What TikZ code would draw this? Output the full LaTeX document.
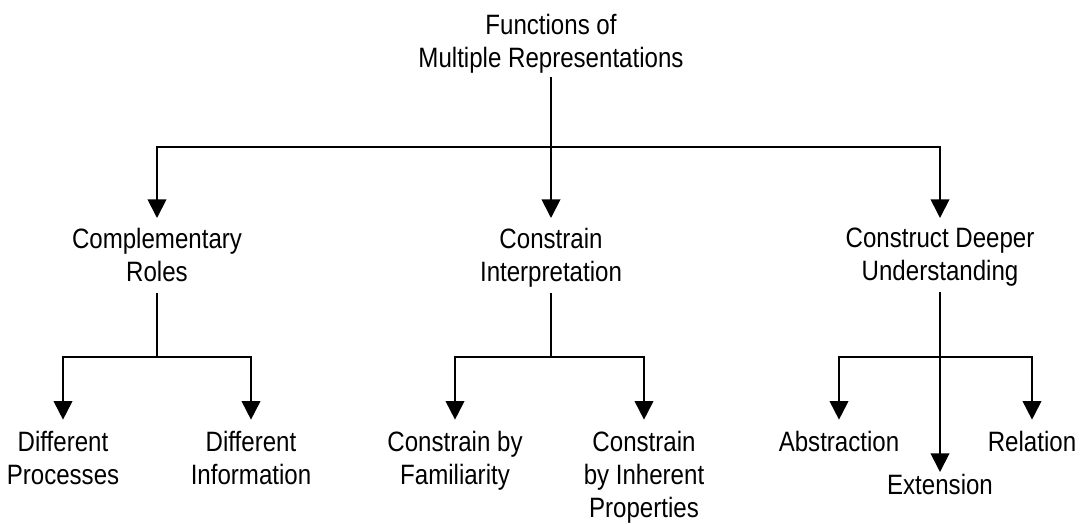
\documentclass[tikz,border=0pt]{standalone}
\usepackage{fontspec}
\setmainfont{Liberation Sans}[FakeStretch=0.86]
\usetikzlibrary{arrows.meta}
\begin{document}
\begin{tikzpicture}[x=0.75pt,y=-0.75pt,
  lbl/.style={align=center, anchor=north, inner sep=0pt, font=\fontsize{21}{24.75}\selectfont},
  conn/.style={line width=1.4pt},
  arr/.style={conn, -{Triangle[length=14pt,width=14pt]}},
]
\useasboundingbox (0,0) rectangle (1084,524);
% nodes
\node[lbl] (root) at (551,14) {Functions of\\Multiple Representations};
\node[lbl] (c1) at (157,228) {Complementary\\Roles};
\node[lbl] (c2) at (551,228) {Constrain\\Interpretation};
\node[lbl] (c3) at (940,228) {Construct Deeper\\Understanding};
\node[lbl] (g11) at (63,431) {Different\\Processes};
\node[lbl] (g12) at (251,431) {Different\\Information};
\node[lbl] (g21) at (455,431) {Constrain by\\Familiarity};
\node[lbl] (g22) at (644,431) {Constrain\\by Inherent\\Properties};
\node[lbl] (g31) at (839,431) {Abstraction};
\node[lbl] (g32) at (940,474) {Extension};
\node[lbl] (g33) at (1032,431) {Relation};
% junctions
\coordinate (j0) at (551,147);
\coordinate (j1) at (157,357);
\coordinate (j2) at (551,357);
\coordinate (j3) at (940,357);
% top level
\draw[conn, shorten <=2.5pt] (root.south) -- (j0);
\draw[arr, shorten >=7.5pt] (j0) -| (c1.north);
\draw[arr, shorten >=7.5pt] (j0) -- (c2.north);
\draw[arr, shorten >=7.5pt] (j0) -| (c3.north);
% left group
\draw[conn, shorten <=8pt] (c1.south) -- (j1);
\draw[arr, shorten >=8.5pt] (j1) -| (g11.north);
\draw[arr, shorten >=8.5pt] (j1) -| (g12.north);
% middle group
\draw[conn, shorten <=4pt] (c2.south) -- (j2);
\draw[arr, shorten >=8.5pt] (j2) -| (g21.north);
\draw[arr, shorten >=8.5pt] (j2) -| (g22.north);
% right group
\draw[conn, shorten <=4pt] (c3.south) -- (j3);
\draw[arr, shorten >=8.5pt] (j3) -| (g31.north);
\draw[arr, shorten >=1.5pt] (j3) -- (g32.north);
\draw[arr, shorten >=8.5pt] (j3) -| (g33.north);
\end{tikzpicture}
\end{document}
